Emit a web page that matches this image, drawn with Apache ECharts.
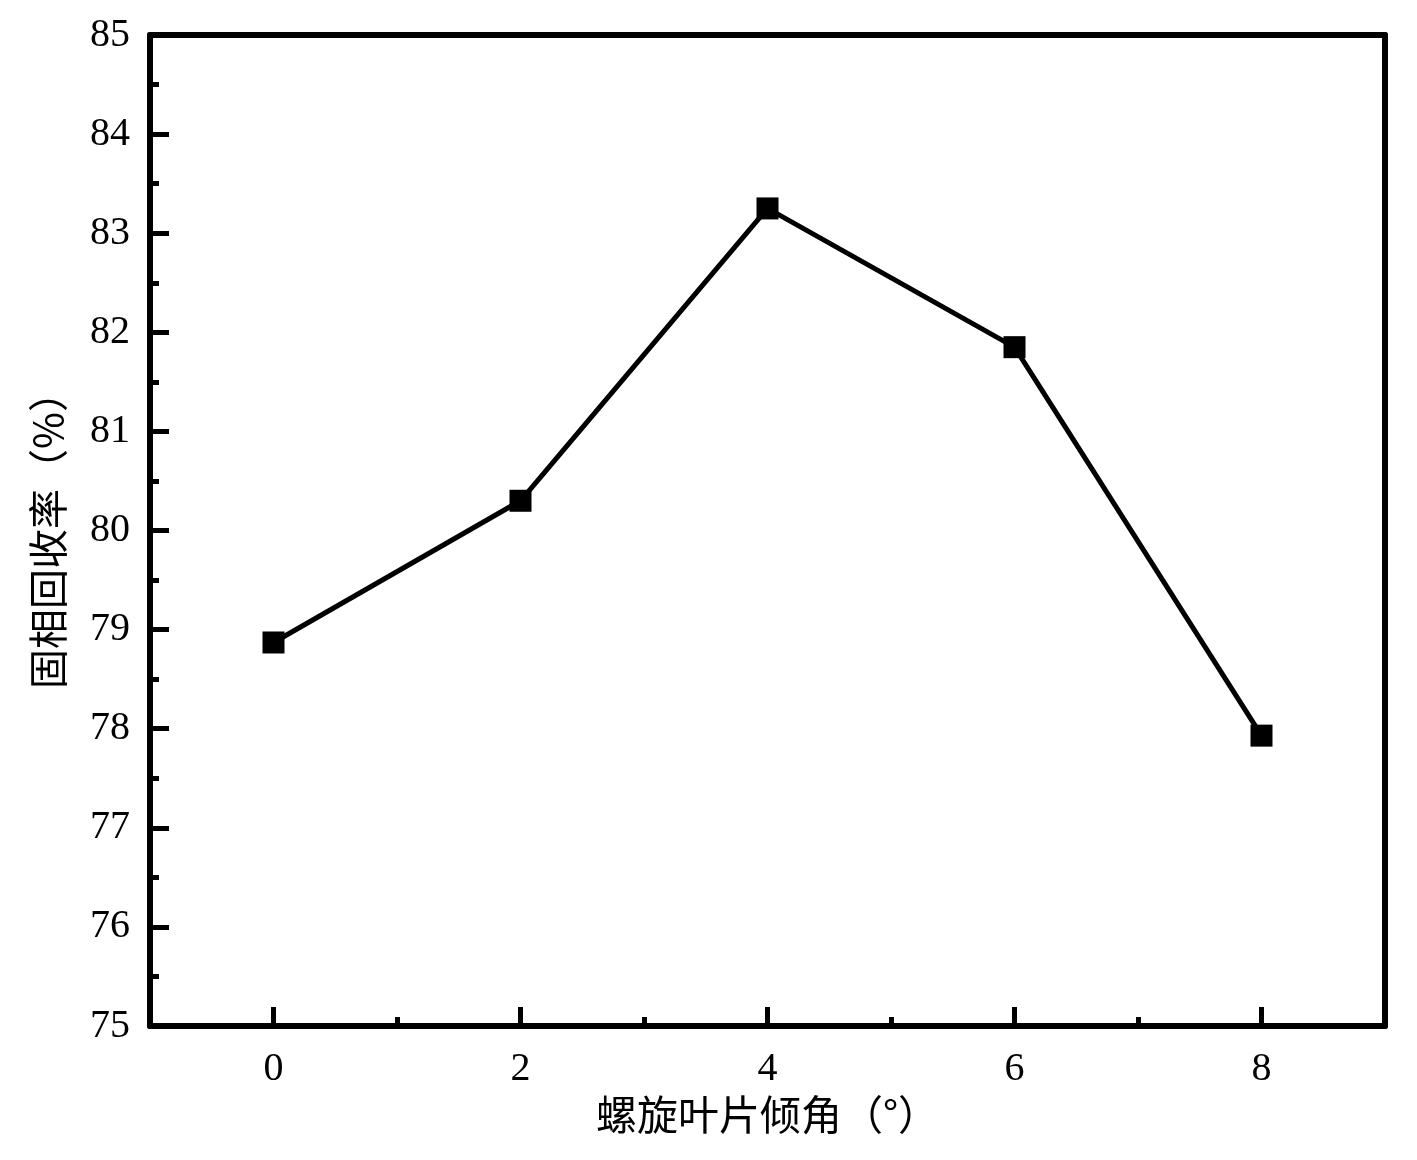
<!DOCTYPE html>
<html>
<head>
<meta charset="utf-8">
<script src="https://cdn.jsdelivr.net/npm/echarts@6/dist/echarts.min.js"></script>
<style>html,body{margin:0;padding:0;background:#fff;}#c{width:1417px;height:1160px;}</style>
</head>
<body>
<div id="c"></div>
<script>
var angles = [0, 2, 4, 6, 8];
var recovery = [78.87, 80.30, 83.25, 81.85, 77.93];
var xTicks = [0, 2, 4, 6, 8];
var xTitle = '螺旋叶片倾角（°）';
var yTitle = '固相回收率（%）';

var FONT = '"Liberation Serif", "Noto Sans CJK SC", serif';
var CJK = '"Noto Sans CJK SC", "Liberation Serif", serif';
var chart = echarts.init(document.getElementById('c'));
chart.setOption({
  backgroundColor: '#fff',
  animation: false,
  grid: { left: 150, right: 32, top: 35, bottom: 134, containLabel: false },
  xAxis: [
    {
      type: 'value', position: 'bottom', min: -1, max: 9,
      name: xTitle, nameLocation: 'middle', nameGap: 63,
      nameTextStyle: { fontFamily: CJK, fontSize: 41, color: '#000' },
      axisLine: { show: true, onZero: false, lineStyle: { color: '#000', width: 6 } },
      axisTick: { show: true, inside: true, length: 19, customValues: xTicks, lineStyle: { color: '#000', width: 5 } },
      axisLabel: { show: true, customValues: xTicks, margin: 23, fontFamily: FONT, fontSize: 40, color: '#000' },
      splitLine: { show: false }
    },
    {
      type: 'value', position: 'bottom', min: -1, max: 9, interval: 2,
      axisLine: { show: false, onZero: false },
      axisTick: { show: true, inside: true, length: 9, lineStyle: { color: '#000', width: 5 } },
      axisLabel: { show: false },
      splitLine: { show: false }
    },
    {
      type: 'value', position: 'top', min: -1, max: 9,
      axisLine: { show: true, onZero: false, lineStyle: { color: '#000', width: 6 } },
      axisTick: { show: false }, axisLabel: { show: false }, splitLine: { show: false }
    }
  ],
  yAxis: [
    {
      type: 'value', position: 'left', min: 75, max: 85, interval: 1,
      name: yTitle, nameLocation: 'middle', nameGap: 82,
      nameTextStyle: { fontFamily: CJK, fontSize: 40, color: '#000' },
      axisLine: { show: true, onZero: false, lineStyle: { color: '#000', width: 6 } },
      axisTick: { show: true, inside: true, length: 19, lineStyle: { color: '#000', width: 5 } },
      minorTick: { show: true, splitNumber: 2, length: 9, lineStyle: { color: '#000', width: 5 } },
      axisLabel: { show: true, margin: 20, fontFamily: FONT, fontSize: 40, color: '#000' },
      splitLine: { show: false }
    },
    {
      type: 'value', position: 'right', min: 75, max: 85,
      axisLine: { show: true, onZero: false, lineStyle: { color: '#000', width: 6 } },
      axisTick: { show: false }, axisLabel: { show: false }, splitLine: { show: false }
    }
  ],
  series: [{
    type: 'line',
    xAxisIndex: 0, yAxisIndex: 0,
    data: angles.map(function (a, i) { return [a, recovery[i]]; }),
    symbol: 'rect', symbolSize: 22,
    lineStyle: { color: '#000', width: 5 },
    itemStyle: { color: '#000' }
  }]
});
</script>
</body>
</html>
